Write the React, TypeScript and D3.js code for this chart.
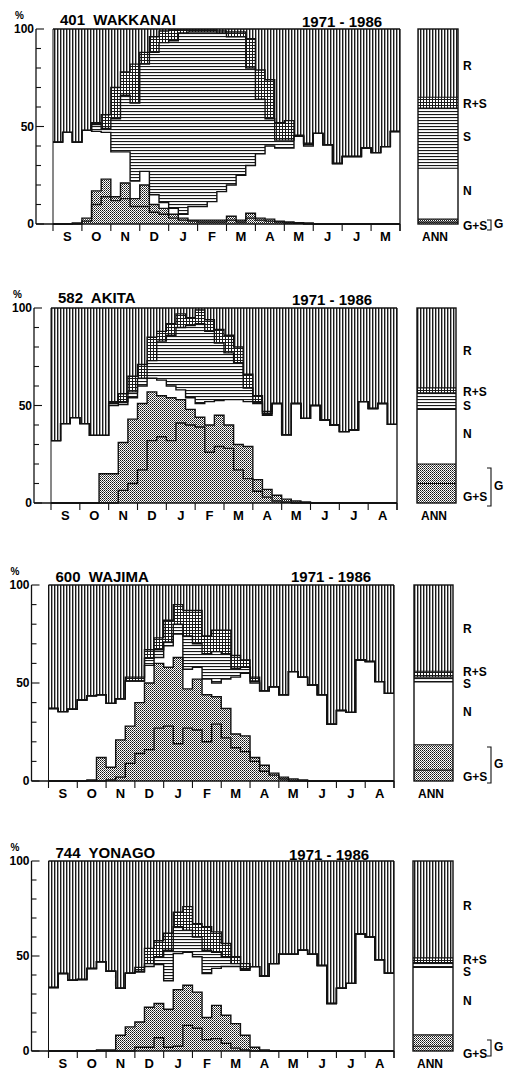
import React from 'react';
import * as d3 from 'd3';

const W = 511;
const H = 1072;

const MONTHS = ['S', 'O', 'N', 'D', 'J', 'F', 'M', 'A', 'M', 'J', 'J', 'A'];
const MONTHS_WAKKANAI = ['S', 'O', 'N', 'D', 'J', 'F', 'M', 'A', 'M', 'J', 'J', 'M'];

// ten-day periods, 1st decade of Sep .. 3rd decade of Aug (36 values, %)
// cumulative tops from the bottom: G+S, G, N, S, R+S  (R fills up to 100)
const wakkanaiGS = [0, 0, 0, 1.5, 10, 14, 12, 13, 9, 9, 6, 5, 3, 2, 1.5, 1, 1, 1, 2, 1, 3, 2, 1.5, 1, 0.5, 0.3, 0, 0, 0, 0, 0, 0, 0, 0, 0, 0];
const wakkanaiG = [0, 0, 0.5, 3, 17, 23, 14, 21, 13, 20, 10, 8, 5, 3, 2, 2, 2, 2, 4, 2, 5.5, 3, 2.5, 1.5, 1, 0.7, 0.5, 0, 0, 0, 0, 0, 0, 0, 0, 0];
const wakkanaiN = [42, 47, 42, 48, 47.5, 47, 37, 37, 22, 27, 15, 11, 8, 5, 9, 9, 11.5, 16.6, 20, 25, 30, 36, 40, 39, 39, 45, 40, 46.5, 40.6, 31, 34.6, 34.6, 39, 36.6, 39.7, 47.4];
const wakkanaiS = [42, 47, 42, 48, 51, 49, 54, 66, 62, 82, 88, 93, 94, 98, 98.5, 98.5, 98.5, 98, 96, 96, 80, 64, 54, 43, 43, 45, 41, 46.5, 40.6, 31, 34.6, 34.6, 39, 36.6, 39.7, 47.4];
const wakkanaiRS = [42, 47, 42, 48, 52, 56, 70, 78, 82, 88, 96, 99, 99.5, 99.5, 99.5, 99.5, 99.5, 99, 98.5, 98.5, 95, 79, 74, 52, 53, 45.5, 41.5, 46.5, 40.6, 31, 34.6, 34.6, 39, 36.6, 39.7, 47.4];

const akitaGS = [0, 0, 0, 0, 0, 0, 0, 6.5, 10, 17, 32, 34, 32, 41, 40, 39, 26, 29, 28, 17, 12.5, 6, 3, 1, 0.5, 0, 0, 0, 0, 0, 0, 0, 0, 0, 0, 0];
const akitaG = [0, 0, 0, 0, 0, 15, 15, 31, 43, 51, 57, 55, 54, 53, 48, 44, 40, 45, 40, 30, 29, 12, 7, 4, 2, 1, 0.5, 0, 0, 0, 0, 0, 0, 0, 0, 0];
const akitaN = [32, 40.7, 43.8, 40.7, 34.7, 34.7, 50, 50.5, 54, 60, 64, 63, 60, 58, 54, 51, 52, 52.5, 53, 53, 52, 51, 45, 51, 35, 51, 43.4, 50, 42.6, 40, 36.6, 37.4, 52, 48.5, 51, 40.3];
const akitaS = [32, 40.7, 43.8, 40.7, 34.7, 34.7, 51, 52, 57, 64, 73, 83, 86, 90, 91, 92, 88, 82, 77, 72, 59, 52, 46, 51, 35, 51, 43.4, 50, 42.6, 40, 36.6, 37.4, 52, 48.5, 51, 40.3];
const akitaRS = [32, 40.7, 43.8, 40.7, 34.7, 34.7, 52, 56, 65, 71, 85, 88, 92, 97, 95, 99, 94, 89, 86, 80, 66, 55, 47, 51, 35, 51, 43.4, 50, 42.6, 40, 36.6, 37.4, 52, 48.5, 51, 40.3];

const wajimaGS = [0, 0, 0, 0, 0, 0, 0.5, 2, 9, 14, 16, 27, 28, 19, 27, 26, 20, 29, 22, 17, 15, 10, 5, 3, 1, 0, 0, 0, 0, 0, 0, 0, 0, 0, 0, 0];
const wajimaG = [0, 0, 0, 0, 0.5, 12, 7, 21, 28, 40, 50, 60, 58, 63, 47, 52, 44, 43, 37, 24, 23, 12, 8, 4, 2, 1, 0.5, 0, 0, 0, 0, 0, 0, 0, 0, 0];
const wajimaN = [37, 35.4, 36.6, 41.3, 43.5, 44, 39.6, 42, 51, 51, 59, 63, 69, 75, 57, 58, 52, 50, 52, 53, 55, 50, 46, 48, 44, 55.8, 53, 49, 44, 29, 36, 35, 61.7, 61, 50.7, 44.7];
const wajimaS = [37, 35.4, 36.6, 41.3, 43.5, 44, 39.6, 42, 51, 51, 62.6, 67, 71, 80, 74, 70, 65, 66, 65, 57.5, 58, 51, 46, 48, 44, 55.8, 53, 49, 44, 29, 36, 35, 61.7, 61, 50.7, 44.7];
const wajimaRS = [37, 35.4, 36.6, 41.3, 43.5, 44, 39.6, 42, 53, 53, 67, 73, 82, 90, 87, 87, 74, 77, 77, 64, 61.7, 53, 46, 48, 44, 55.8, 53, 49, 44, 29, 36, 35, 61.7, 61, 50.7, 44.7];

const yonagoGS = [0, 0, 0, 0, 0, 0, 0, 0, 0, 2, 2, 7, 2, 2.5, 13.5, 12, 6, 6.5, 4, 1.5, 0.5, 0, 0, 0, 0, 0, 0, 0, 0, 0, 0, 0, 0, 0, 0, 0];
const yonagoG = [0, 0, 0, 0, 0, 0.5, 0.5, 8.3, 12.7, 15.3, 23, 25, 22, 32.3, 34.6, 31, 17.6, 24, 18.8, 14.4, 8.3, 2, 0.5, 0, 0, 0, 0, 0, 0, 0, 0, 0, 0, 0, 0, 0];
const yonagoN = [33.4, 40.8, 37.3, 37.6, 43.4, 47, 42, 33, 41, 41.6, 44.5, 45.5, 37, 51.3, 52, 49.6, 40.8, 43.5, 44.5, 44.5, 42.5, 44.4, 39.5, 46, 51, 51, 53, 51, 45, 25, 33, 35.6, 61.6, 60, 48, 41];
const yonagoS = [33.4, 40.8, 37.3, 37.6, 43.4, 47, 42, 33, 41, 42, 46, 49.6, 53, 65.4, 63.6, 60, 53, 52, 49.6, 46, 43.4, 44.4, 39.5, 46, 51, 51, 53, 51, 45, 25, 33, 35.6, 61.6, 60, 48, 41];
const yonagoRS = [33.4, 40.8, 37.3, 37.6, 43.4, 47, 42, 33, 41, 44, 54, 58, 62, 73, 76, 67, 65.4, 62.7, 56.6, 49.6, 46, 44.4, 39.5, 46, 51, 51, 53, 51, 45, 25, 33, 35.6, 61.6, 60, 48, 41];

// annual bars: G+S, G, N, S, R+S
const annWakkanai = [1, 2.5, 28.6, 59.5, 65];
const annAkita = [10, 20, 48, 56.5, 59];
const annWajima = [5.5, 18.5, 50.5, 53, 56];
const annYonago = [2.5, 8.5, 44, 46.5, 49];

const FONT = '"Liberation Sans", Arial, sans-serif';

const PANELS = [
  {
    title: '401  WAKKANAI', months: MONTHS_WAKKANAI,
    series: [wakkanaiGS, wakkanaiG, wakkanaiN, wakkanaiS, wakkanaiRS], ann: annWakkanai,
    top: 29, bottom: 224, left: 53, right: 400, annL: 418, annR: 458,
    titleY: 25, yearsX: 302, yearsY: 27,
    lab: { R: 67, RS: 105, S: 138, N: 192, GS: 227 }, bracket: [220, 230],
  },
  {
    title: '582  AKITA', months: MONTHS,
    series: [akitaGS, akitaG, akitaN, akitaS, akitaRS], ann: annAkita,
    top: 308, bottom: 503, left: 51, right: 397, annL: 417, annR: 456,
    titleY: 303, yearsX: 292, yearsY: 305,
    lab: { R: 352, RS: 393, S: 407, N: 435, GS: 498 }, bracket: [468, 506],
  },
  {
    title: '600  WAJIMA', months: MONTHS,
    series: [wajimaGS, wajimaG, wajimaN, wajimaS, wajimaRS], ann: annWajima,
    top: 585, bottom: 781, left: 48.5, right: 394, annL: 414, annR: 453,
    titleY: 582, yearsX: 291, yearsY: 582,
    lab: { R: 630, RS: 673, S: 685, N: 713, GS: 778 }, bracket: [747, 783],
  },
  {
    title: '744  YONAGO', months: MONTHS,
    series: [yonagoGS, yonagoG, yonagoN, yonagoS, yonagoRS], ann: annYonago,
    top: 861, bottom: 1051, left: 48.5, right: 394, annL: 413, annR: 453,
    titleY: 858, yearsX: 289, yearsY: 860,
    lab: { R: 907, RS: 961, S: 973, N: 1002, GS: 1055 }, bracket: [1040, 1056],
  },
];

const FILLS = ['url(#pDot)', 'url(#pDot)', '#fff', 'url(#pHor)', 'url(#pCross)', 'url(#pVer)'];

function Panel({ p }: { p: any }) {
  const x = d3.scaleLinear().domain([0, 36]).range([p.left, p.right]);
  const y = d3.scaleLinear().domain([0, 100]).range([p.bottom, p.top]);
  const idx = d3.range(37);
  const at = (arr: number[]) => (i: number) => arr[Math.min(i, 35)];
  const levels = [() => 0, ...p.series.map(at), () => 100];

  const area = (lo: (i: number) => number, hi: (i: number) => number) =>
    d3.area<number>().curve(d3.curveStepAfter).x((i) => x(i)).y0((i) => y(lo(i))).y1((i) => y(hi(i)))(idx) || '';
  const line = (f: (i: number) => number) =>
    d3.line<number>().curve(d3.curveStepAfter).x((i) => x(i)).y((i) => y(f(i)))(idx) || '';

  const axisX = p.left - 17;
  const yTicks = d3.range(0, 101, 10);
  const monthEdges = d3.range(0, 13);
  const annLevels = [0, ...p.ann, 100];
  const labX = 463;

  return (
    <g>
      {/* stacked bands */}
      {FILLS.map((f, k) => (
        <path key={k} d={area(levels[k], levels[k + 1])} fill={f} stroke="none" />
      ))}
      {/* band boundaries */}
      {p.series.map((s: number[], k: number) => (
        <path key={k} d={line(at(s))} fill="none" stroke="#111" strokeWidth={1.4} />
      ))}
      {/* frame */}
      <line x1={x(0)} x2={x(36)} y1={y(100)} y2={y(100)} stroke="#111" strokeWidth={1.4} />
      <line x1={x(36)} x2={x(36)} y1={y(100)} y2={y(0) + 7} stroke="#111" strokeWidth={1.3} />
      <line x1={x(0)} x2={x(0)} y1={y(100)} y2={y(0)} stroke="#111" strokeWidth={1} />

      {/* y axis */}
      <line x1={axisX} x2={axisX} y1={y(100)} y2={y(0)} stroke="#111" strokeWidth={1.3} />
      {yTicks.map((t) => (
        <line key={t} x1={axisX} x2={axisX + (t % 50 === 0 ? 8 : 5)} y1={y(t)} y2={y(t)} stroke="#111" strokeWidth={1.1} />
      ))}
      {[0, 50, 100].map((t) => (
        <text key={t} x={axisX - 2} y={y(t) + 1} textAnchor="end" dominantBaseline="middle"
          fontFamily={FONT} fontWeight="bold" fontSize={12}>{t}</text>
      ))}
      <text x={axisX - 21} y={p.top - 10} fontFamily={FONT} fontWeight="bold" fontSize={10}>%</text>

      {/* x axis */}
      <line x1={axisX} x2={x(36)} y1={y(0)} y2={y(0)} stroke="#111" strokeWidth={1.4} />
      {monthEdges.map((m) => (
        <line key={m} x1={x(m * 3)} x2={x(m * 3)} y1={y(0)} y2={y(0) + 7} stroke="#111" strokeWidth={1.1} />
      ))}
      {p.months.map((m: string, k: number) => (
        <text key={k} x={x(k * 3 + 1.5)} y={y(0) + 17} textAnchor="middle"
          fontFamily={FONT} fontWeight="bold" fontSize={13}>{m}</text>
      ))}

      {/* titles */}
      <text x={p.left + 7} y={p.titleY} fontFamily={FONT} fontWeight="bold" fontSize={15}
        style={{ whiteSpace: 'pre' }}>{p.title}</text>
      <text x={p.yearsX} y={p.yearsY} fontFamily={FONT} fontWeight="bold" fontSize={15}>1971 - 1986</text>

      {/* annual bar */}
      {FILLS.map((f, k) => (
        <rect key={k} x={p.annL} width={p.annR - p.annL}
          y={y(annLevels[k + 1])} height={y(annLevels[k]) - y(annLevels[k + 1])} fill={f} />
      ))}
      {p.ann.map((v: number, k: number) => (
        <line key={k} x1={p.annL} x2={p.annR} y1={y(v)} y2={y(v)} stroke="#111" strokeWidth={1.2} />
      ))}
      <rect x={p.annL} y={y(100)} width={p.annR - p.annL} height={y(0) - y(100)}
        fill="none" stroke="#111" strokeWidth={1.4} />
      <text x={p.annL + 4} y={y(0) + 17} fontFamily={FONT} fontWeight="bold" fontSize={12}>ANN</text>

      {/* legend labels */}
      {[['R', p.lab.R], ['R+S', p.lab.RS], ['S', p.lab.S], ['N', p.lab.N], ['G+S', p.lab.GS]].map(([t, ly]: any) => (
        <text key={t} x={labX} y={ly} dominantBaseline="middle" fontFamily={FONT} fontWeight="bold" fontSize={12}>{t}</text>
      ))}
      <path d={`M${labX + 24},${p.bracket[0]}h4V${p.bracket[1]}h-4`} fill="none" stroke="#111" strokeWidth={1.1} />
      <text x={labX + 31} y={(p.bracket[0] + p.bracket[1]) / 2} dominantBaseline="middle"
        fontFamily={FONT} fontWeight="bold" fontSize={12}>G</text>
    </g>
  );
}

export default function App() {
  return (
    <svg width={W} height={H} viewBox={`0 0 ${W} ${H}`}
      style={{ position: 'absolute', left: 0, top: 0, background: '#fff' }}>
      <defs>
        <pattern id="pVer" width={3} height={6} patternUnits="userSpaceOnUse">
          <rect width={3} height={6} fill="#fff" />
          <rect x={0} width={1.4} height={6} fill="#1a1a1a" />
        </pattern>
        <pattern id="pHor" width={6} height={3} patternUnits="userSpaceOnUse">
          <rect width={6} height={3} fill="#fff" />
          <rect y={0} width={6} height={1.1} fill="#1a1a1a" />
        </pattern>
        <pattern id="pCross" width={3} height={3} patternUnits="userSpaceOnUse">
          <rect width={3} height={3} fill="#fff" />
          <rect x={0} width={1} height={3} fill="#1a1a1a" />
          <rect y={0} width={3} height={1} fill="#1a1a1a" />
        </pattern>
        <pattern id="pDot" width={2} height={2} patternUnits="userSpaceOnUse">
          <rect width={2} height={2} fill="#fff" />
          <rect x={0} y={0} width={1} height={1} fill="#111" />
          <rect x={1} y={1} width={1} height={1} fill="#555" />
        </pattern>
      </defs>
      <rect width={W} height={H} fill="#fff" />
      {PANELS.map((p, k) => (
        <Panel key={k} p={p} />
      ))}
    </svg>
  );
}
